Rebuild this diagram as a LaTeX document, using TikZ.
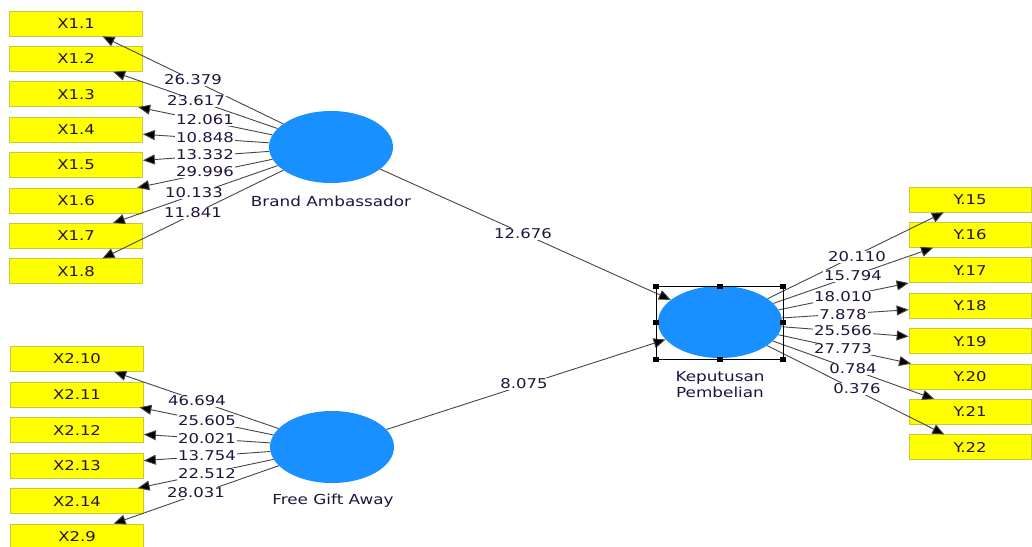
\documentclass[tikz,border=0pt]{standalone}
\usepackage{fontspec}
\setmainfont[FakeStretch=1.22]{DejaVu Sans}
\usetikzlibrary{shapes.geometric,arrows.meta}
\definecolor{boxyel}{RGB}{255,255,0}
\definecolor{boxedge}{RGB}{200,200,60}
\definecolor{latblue}{RGB}{24,144,255}
\definecolor{txt}{RGB}{35,20,60}
\definecolor{linegray}{RGB}{70,70,70}
\tikzset{
  ind/.style={draw=boxedge,fill=boxyel,line width=0.7pt,minimum height=25pt,inner sep=0pt,text=txt,font=\fontsize{13.5}{15}\selectfont},
  indl/.style={ind,minimum width=133pt},
  indr/.style={ind,minimum width=122pt},
  lat/.style={ellipse,fill=latblue,draw=none,minimum width=124pt,minimum height=72pt,inner sep=0pt},
  conn/.style={draw=linegray,line width=0.9pt,-{Triangle[length=12pt,width=10pt,fill=black]}},
  lbl/.style={fill=white,inner sep=1pt,text=txt,font=\fontsize{13.5}{15}\selectfont},
  latlbl/.style={text=txt,font=\fontsize{13.8}{16}\selectfont,align=center,inner sep=0pt},
  handle/.style={fill=black,draw=none,minimum width=6pt,minimum height=5pt,inner sep=0pt}
}
\begin{document}
\begin{tikzpicture}[x=1pt,y=-1pt]
\useasboundingbox[fill=white] (0,0) rectangle (1032,546);
% latent variables
\node[lat] (ba) at (331,147) {};
\node[lat] (fg) at (332,447) {};
\node[lat] (kp) at (720,322) {};
\node[latlbl] (bal) at (331,201) {Brand Ambassador};
\node[latlbl] (fgl) at (333,501) {Free Gift Away};
\node[latlbl] (kpl) at (720,385) {Keputusan\\Pembelian};
% left indicators X1
\node[indl] (x11) at (76,23.5) {X1.1};
\node[indl] (x12) at (76,58.9) {X1.2};
\node[indl] (x13) at (76,94.3) {X1.3};
\node[indl] (x14) at (76,129.7) {X1.4};
\node[indl] (x15) at (76,165.1) {X1.5};
\node[indl] (x16) at (76,200.5) {X1.6};
\node[indl] (x17) at (76,235.9) {X1.7};
\node[indl] (x18) at (76,271.3) {X1.8};
% left indicators X2
\node[indl] (x210) at (77,359) {X2.10};
\node[indl] (x211) at (77,394.5) {X2.11};
\node[indl] (x212) at (77,430) {X2.12};
\node[indl] (x213) at (77,465.5) {X2.13};
\node[indl] (x214) at (77,501) {X2.14};
\node[indl] (x29) at (77,536.5) {X2.9};
% right indicators
\node[indr] (y15) at (970,199.5) {Y.15};
\node[indr] (y16) at (970,234.9) {Y.16};
\node[indr] (y17) at (970,270.3) {Y.17};
\node[indr] (y18) at (970,305.7) {Y.18};
\node[indr] (y19) at (970,341.1) {Y.19};
\node[indr] (y20) at (970,376.5) {Y.20};
\node[indr] (y21) at (970,411.9) {Y.21};
\node[indr] (y22) at (970,447.3) {Y.22};
% connectors
\foreach \t in {x11,x12,x13,x14,x15,x16,x17,x18} \draw[conn] (ba) -- (\t);
\foreach \t in {x210,x211,x212,x213,x214,x29} \draw[conn] (fg) -- (\t);
\foreach \t in {y15,y16,y17,y18,y19,y20,y21,y22} \draw[conn] (kp) -- (\t);
\draw[conn] (ba) -- (kp);
\draw[conn] (fg) -- (kp);
% labels
\node[lbl] (l11) at (193,80) {26.379};
\node[lbl] (l12) at (196,101) {23.617};
\node[lbl] (l13) at (205,120) {12.061};
\node[lbl] (l14) at (205,138) {10.848};
\node[lbl] (l15) at (205,155) {13.332};
\node[lbl] (l16) at (205,172) {29.996};
\node[lbl] (l17) at (194,193) {10.133};
\node[lbl] (l18) at (193,213) {11.841};
\node[lbl] (l210) at (197,401) {46.694};
\node[lbl] (l211) at (207,421) {25.605};
\node[lbl] (l212) at (207,439) {20.021};
\node[lbl] (l213) at (207,456) {13.754};
\node[lbl] (l214) at (207,474) {22.512};
\node[lbl] (l29) at (196,493) {28.031};
\node[lbl] (ly15) at (857,257) {20.110};
\node[lbl] (ly16) at (853,276) {15.794};
\node[lbl] (ly17) at (843,297) {18.010};
\node[lbl] (ly18) at (843,315) {7.878};
\node[lbl] (ly19) at (843,331) {25.566};
\node[lbl] (ly20) at (843,349) {27.773};
\node[lbl] (ly21) at (853,369) {0.784};
\node[lbl] (ly22) at (857,389) {0.376};
\node[lbl] (lba) at (523,234) {12.676};
\node[lbl] (lfg) at (524,384) {8.075};
% selection frame
\draw[black,line width=0.9pt] (656,286) rectangle (783,359);
\node[handle] (h1) at (656,286) {};
\node[handle] (h2) at (720,286) {};
\node[handle] (h3) at (783,286) {};
\node[handle] (h4) at (656,322) {};
\node[handle] (h5) at (783,322) {};
\node[handle] (h6) at (656,359) {};
\node[handle] (h7) at (720,359) {};
\node[handle] (h8) at (783,359) {};
\end{tikzpicture}
\end{document}
